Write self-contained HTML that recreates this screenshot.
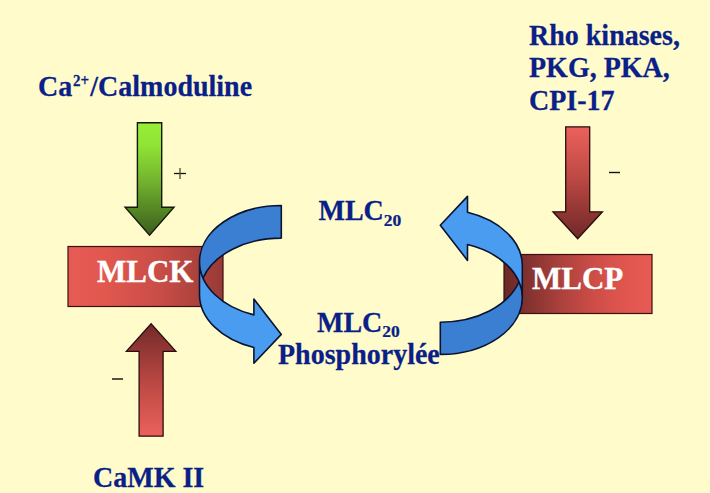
<!DOCTYPE html>
<html><head><meta charset="utf-8"><style>
html,body{margin:0;padding:0;}
body{width:710px;height:493px;background:#FFFBCB;position:relative;overflow:hidden;font-family:"Liberation Serif",serif;}
.t{position:absolute;white-space:nowrap;font-weight:bold;color:#0A1F88;font-size:28px;line-height:1;transform:scaleY(1.045);transform-origin:0 23.5px;-webkit-text-stroke:0.25px #0A1F88;}
.w{position:absolute;white-space:nowrap;font-weight:bold;color:#FFFFFF;font-size:31px;line-height:1;-webkit-text-stroke:0.35px #FFFFFF;}
svg{position:absolute;left:0;top:0;}
sub{font-size:17.5px;vertical-align:baseline;position:relative;top:4.6px;display:inline-block;transform:scaleY(0.89);transform-origin:0 100%;}
sup{font-size:15px;vertical-align:baseline;position:relative;top:-9.9px;margin-left:0.8px;margin-right:1.2px;}
.s{position:absolute;font-family:"Liberation Sans",sans-serif;font-size:14px;color:#333;line-height:1;}
</style></head><body>
<svg width="710" height="493" viewBox="0 0 710 493">
<defs>
<linearGradient id="gG" x1="0" y1="122" x2="0" y2="236" gradientUnits="userSpaceOnUse">
<stop offset="0" stop-color="#98EE38"/><stop offset="0.2" stop-color="#90E435"/><stop offset="0.5" stop-color="#74B62F"/><stop offset="1" stop-color="#3A5C1C"/>
</linearGradient>
<linearGradient id="gR1" x1="0" y1="126" x2="0" y2="239" gradientUnits="userSpaceOnUse">
<stop offset="0" stop-color="#EC625C"/><stop offset="0.45" stop-color="#BE4944"/><stop offset="1" stop-color="#6E2828"/>
</linearGradient>
<linearGradient id="gR2" x1="0" y1="437" x2="0" y2="323" gradientUnits="userSpaceOnUse">
<stop offset="0" stop-color="#EC625C"/><stop offset="0.45" stop-color="#BE4944"/><stop offset="1" stop-color="#722A29"/>
</linearGradient>
<linearGradient id="gB1" x1="68" y1="0" x2="223" y2="0" gradientUnits="userSpaceOnUse">
<stop offset="0" stop-color="#E65C55"/><stop offset="0.22" stop-color="#E2584F"/><stop offset="0.6" stop-color="#C84D47"/><stop offset="1" stop-color="#983A36"/>
</linearGradient>
<linearGradient id="gB2" x1="504" y1="0" x2="652" y2="0" gradientUnits="userSpaceOnUse">
<stop offset="0" stop-color="#6A2826"/><stop offset="0.2" stop-color="#8A3431"/><stop offset="0.4" stop-color="#AE423D"/><stop offset="0.6" stop-color="#CC4D47"/><stop offset="0.82" stop-color="#E0564F"/><stop offset="1" stop-color="#E85B55"/>
</linearGradient>
</defs>
<rect x="68" y="246.5" width="155" height="60" fill="url(#gB1)" stroke="#3A1010" stroke-width="1.2"/>
<rect x="504" y="254.5" width="148" height="59" fill="url(#gB2)" stroke="#3A1010" stroke-width="1.2"/>
<path d="M137.40 122.80 L161.70 122.80 L161.70 207.20 L174.05 207.20 L149.55 235.10 L125.05 207.20 L137.40 207.20 Z" fill="url(#gG)" stroke="#141A0A" stroke-width="1.4" stroke-linejoin="miter"/>
<path d="M565.70 126.80 L589.70 126.80 L589.70 211.80 L602.45 211.80 L577.70 238.80 L552.95 211.80 L565.70 211.80 Z" fill="url(#gR1)" stroke="#2A0E0E" stroke-width="1.3"/>
<path d="M139.10 436.20 L163.10 436.20 L163.10 351.40 L175.85 351.40 L151.10 323.80 L126.35 351.40 L139.10 351.40 Z" fill="url(#gR2)" stroke="#2A0E0E" stroke-width="1.3"/>
<g>
<path d="M281.30 205.50 A81.80 56.30 0 0 0 199.50 261.80 L199.50 294.40 A81.80 56.30 0 0 1 281.30 238.10 Z" fill="#3A7FD2"/>
<path d="M199.50 261.80 A81.80 56.30 0 0 0 253.90 314.85 L253.90 299.05 L281.30 334.40 L253.90 363.25 L253.90 347.45 A81.80 56.30 0 0 1 199.50 294.40 Z" fill="#4A9CF0"/>
<path d="M199.50 261.80 A81.80 56.30 0 0 0 253.90 314.85 L253.90 299.05 L281.30 334.40 L253.90 363.25 L253.90 347.45 A81.80 56.30 0 0 1 199.50 294.40 L199.50 261.80 A81.80 56.30 0 0 1 281.30 205.50 L281.30 238.10 A81.80 56.30 0 0 0 203.00 278.10" fill="none" stroke="#0A1430" stroke-width="1.6" stroke-linejoin="round"/>
</g>
<g transform="translate(721.5 559.6) rotate(180)">
<path d="M281.20 205.20 A82.00 56.55 0 0 0 199.20 261.75 L199.20 293.95 A82.00 56.55 0 0 1 281.20 237.40 Z" fill="#3A7FD2"/>
<path d="M199.20 261.75 A82.00 56.55 0 0 0 254.00 315.10 L254.00 299.20 L281.20 334.40 L254.00 363.20 L254.00 347.30 A82.00 56.55 0 0 1 199.20 293.95 Z" fill="#4A9CF0"/>
<path d="M199.20 261.75 A82.00 56.55 0 0 0 254.00 315.10 L254.00 299.20 L281.20 334.40 L254.00 363.20 L254.00 347.30 A82.00 56.55 0 0 1 199.20 293.95 L199.20 261.75 A82.00 56.55 0 0 1 281.20 205.20 L281.20 237.40 A82.00 56.55 0 0 0 202.59 277.85" fill="none" stroke="#0A1430" stroke-width="1.6" stroke-linejoin="round"/>
</g>
<g stroke-linecap="butt">
<line x1="174" y1="173.5" x2="186" y2="173.5" stroke="#111" stroke-width="1.3"/>
<line x1="180" y1="168" x2="180" y2="179" stroke="#4A4A38" stroke-width="1.3"/>
<line x1="609" y1="172.5" x2="620" y2="172.5" stroke="#111" stroke-width="1.4"/>
<line x1="112" y1="379" x2="123" y2="379" stroke="#4A3C3C" stroke-width="1.8"/>
</g>
</svg>
<div class="t" id="ca" style="left:38px;top:73px;">Ca<sup>2+</sup>/Calmoduline</div>
<div class="t" id="rho1" style="left:529px;top:21.5px;">Rho kinases,</div>
<div class="t" id="rho2" style="left:529px;top:54px;">PKG, PKA,</div>
<div class="t" id="rho3" style="left:529px;top:86.5px;">CPI-17</div>
<div class="t" id="mlc1" style="left:318.5px;top:197px;">MLC<sub>20</sub></div>
<div class="t" id="mlc2" style="left:317px;top:309.2px;">MLC<sub style="top:3.9px">20</sub></div>
<div class="t" id="phos" style="left:278px;top:340.5px;">Phosphorylée</div>
<div class="t" id="camk" style="left:93px;top:463.5px;">CaMK II</div>
<div class="w" id="mlck" style="left:97px;top:255.5px;">MLCK</div>
<div class="w" id="mlcp" style="left:532px;top:262.5px;">MLCP</div>
</body></html>
